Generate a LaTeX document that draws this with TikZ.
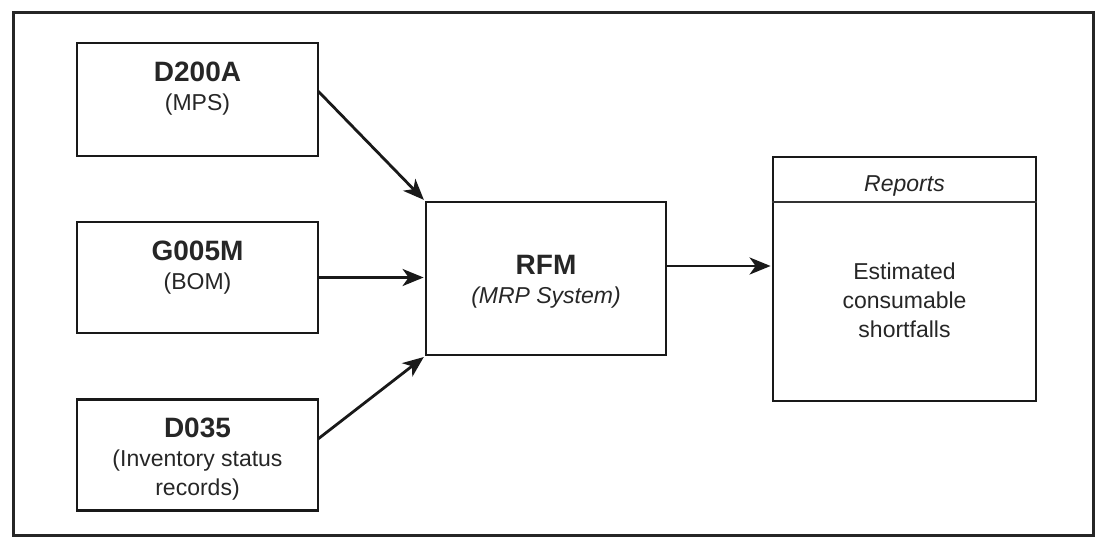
\documentclass[tikz,border=0pt]{standalone}
\usepackage{fontspec}
\setmainfont{Liberation Sans}
\usetikzlibrary{arrows.meta}
\newcommand\boxtitle[1]{{\fontsize{28}{30}\selectfont\bfseries #1}}
\begin{document}
\begin{tikzpicture}[x=1pt,y=-1pt,
  box/.style={draw=black!90, line width=2.8pt, rectangle, inner sep=0pt},
  txt/.style={inner sep=0pt, align=center, anchor=north, text=black!85,
    font=\fontsize{23}{29}\selectfont},
  flow/.style={draw=black!90, line width=2.8pt,
    -{Stealth[length=21pt,width=17pt,inset=6pt]}, shorten >=1pt}]
  \useasboundingbox (0,0) rectangle (1095,538);
  % outer frame
  \draw[line width=3pt, draw=black!85] (13,12) rectangle (1093,535);

  % input files
  \node[box, minimum width=241pt, minimum height=113pt] (mps) at (197.5,99.5) {};
  \node[box, minimum width=241pt, minimum height=111pt] (bom) at (197.5,277.5) {};
  \node[box, minimum width=241pt, minimum height=111pt] (inv) at (197.5,455) {};

  % processing system
  \node[box, minimum width=240pt, minimum height=153pt] (rfm) at (546,278.5) {};

  % report output
  \node[box, minimum width=263pt, minimum height=244pt] (rep) at (904.5,279) {};
  \draw[line width=2pt, draw=black!80] (rep.west |- 0,202) -- (rep.east |- 0,202);

  % labels
  \node[txt] (mpst) at (197.5,62) {\boxtitle{D200A}\\(MPS)};
  \node[txt] (bomt) at (197.5,241) {\boxtitle{G005M}\\(BOM)};
  \node[txt] (invt) at (197.5,418) {\boxtitle{D035}\\(Inventory status\\records)};
  \node[txt] (rfmt) at (546,255) {\boxtitle{RFM}\\\itshape(MRP System)};
  \node[txt] (rept) at (904.5,175) {\itshape Reports};
  \node[txt] (estt) at (904.5,263) {Estimated\\consumable\\shortfalls};

  % data flows
  \coordinate (a1) at (318,91);
  \coordinate (a3) at (318,439);
  \draw[flow] (a1) -- (rfm.north west);
  \draw[flow] (bom.east) -- (rfm.west |- bom.east);
  \draw[flow] (a3) -- (rfm.south west);
  \draw[flow] (rfm.east |- 0,266) -- (rep.west |- 0,266);
\end{tikzpicture}
\end{document}
